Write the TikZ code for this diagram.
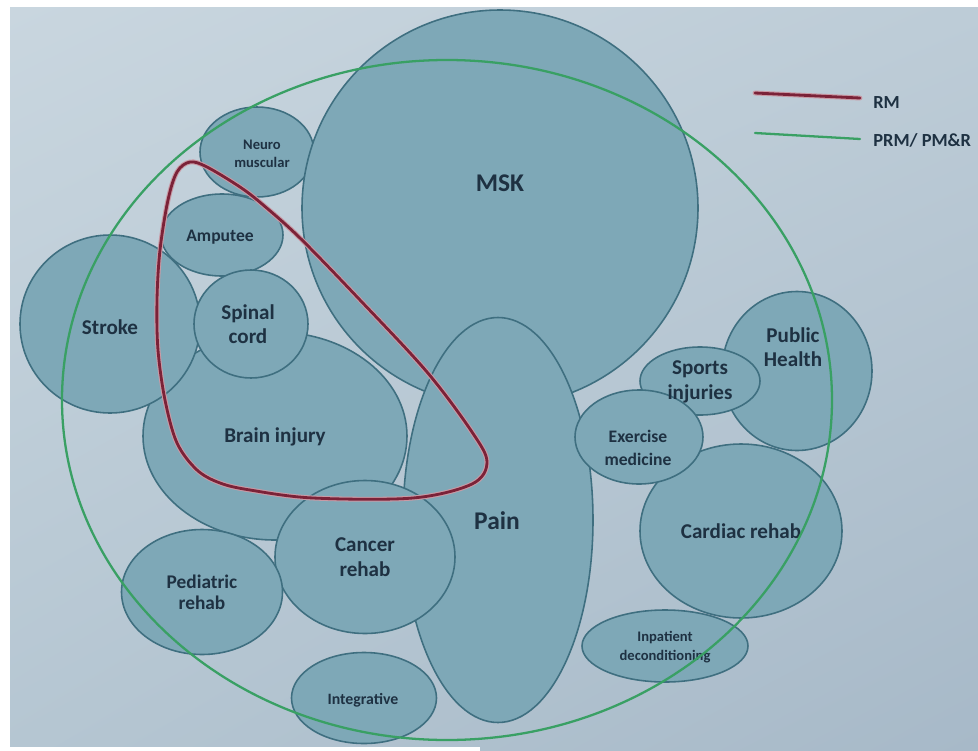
\documentclass[tikz,border=0pt]{standalone}
\usepackage{fontspec}
\setmainfont{Carlito}
\usetikzlibrary{shapes.geometric,shadings}
\definecolor{bgUL}{HTML}{C9D6DF}
\definecolor{bgUR}{HTML}{BDCCD7}
\definecolor{bgLL}{HTML}{B5C6D2}
\definecolor{bgLR}{HTML}{A7B9C8}
\definecolor{fillc}{HTML}{7EA8B7}
\definecolor{edge}{HTML}{3F6F80}
\definecolor{ink}{HTML}{1E3142}
\definecolor{rmred}{HTML}{7B2238}
\definecolor{rmhalo}{HTML}{C99AA5}
\definecolor{prmgreen}{HTML}{39A064}
\begin{document}
\begin{tikzpicture}[x=0.02cm,y=-0.02cm,
  blob/.style n args={2}{ellipse, draw=edge, line width=0.9pt, fill=fillc,
    inner sep=0pt, outer sep=0pt, minimum width={#1*0.02cm}, minimum height={#2*0.02cm}},
  lab/.style={text=ink, align=center, inner sep=0pt},
  fbig/.style={lab, font=\fontsize{14.5}{17}\selectfont\bfseries},
  fmid/.style={lab, font=\fontsize{12}{14}\selectfont\bfseries},
  fped/.style={lab, font=\fontsize{11}{12}\selectfont\bfseries},
  fsm/.style={lab, font=\fontsize{10}{13}\selectfont\bfseries},
  fsmb/.style={lab, font=\fontsize{10}{13}\selectfont\bfseries},
  fxsb/.style={lab, font=\fontsize{8.3}{10.5}\selectfont\bfseries},
  fintb/.style={lab, font=\fontsize{9}{11}\selectfont\bfseries},
  flegend/.style={text=ink, inner sep=0pt, anchor=west, font=\fontsize{10.5}{12}\selectfont\bfseries},
  rmline/.style={draw=rmred, line width=1.6pt, line join=round, line cap=round},
  rmhaloline/.style={draw=rmhalo, line width=2.8pt, line join=round, line cap=round},
  prmline/.style={draw=prmgreen, line width=1.3pt, line cap=round}
]
% canvas
\useasboundingbox (0,0) rectangle (978,751);
\fill[white] (0,0) rectangle (978,751);
\shade[upper left=bgUL, upper right=bgUR, lower left=bgLL, lower right=bgLR]
  (10,7) rectangle (978,751);
\fill[white] (0,747) rectangle (480,751);

% shapes (back to front)
\node[blob={114}{90}]  (neuro)    at (257,152) {};
\node[blob={264}{208}] (brain)    at (275,436) {};
\node[blob={396}{396}] (msk)      at (500,208) {};
\node[blob={190}{405}] (pain)     at (498,520) {};
\node[blob={180}{178}] (stroke)   at (110,324) {};
\node[blob={122}{82}]  (amputee)  at (222,235) {};
\node[blob={114}{108}] (spinal)   at (251,324) {};
\node[blob={180}{153}] (cancer)   at (365,557) {};
\node[blob={161}{125}] (pediatric) at (202,592) {};
\node[blob={145}{91}]  (integr)   at (364,698) {};
\node[blob={150}{159}] (public)   at (797,371) {};
\node[blob={120}{68}]  (sports)   at (700,381) {};
\node[blob={202}{174}] (cardiac)  at (741,531) {};
\node[blob={128}{94}]  (exercise) at (639,437) {};
\node[blob={166}{72}]  (inpatient) at (665,646) {};

% labels
\node[fbig] (msk-t)    at (500,183) {MSK};
\node[fbig] (pain-t)   at (497,521) {Pain};
\node[fxsb] (neuro-t)  at (262,154) {Neuro\\muscular};
\node[fsmb] (amp-t)    at (220,237) {Amputee};
\node[fmid] (stroke-t) at (110,327) {Stroke};
\node[fmid] (spinal-t) at (248,324) {Spinal\\cord};
\node[fmid] (brain-t)  at (275,437) {Brain injury};
\node[fmid] (cancer-t) at (365,557) {Cancer\\rehab};
\node[fped] (ped-t)    at (202,592) {Pediatric\\rehab};
\node[fintb] (int-t)   at (363,700) {Integrative};
\node[fmid] (sports-t) at (700,382) {Sports\\injuries};
\node[fmid] (public-t) at (793,347) {Public\\Health};
\node[fsm]  (ex-t)     at (638,448) {Exercise\\medicine};
\node[fmid] (card-t)   at (741,531) {Cardiac rehab};
\node[fxsb] (inp-t)    at (665,647) {Inpatient\\deconditioning};

% RM outline
\def\rmpath{plot[smooth cycle, tension=0.55] coordinates {
  (190,162) (207,167) (240,187) (262,204) (300,238) (360,300) (427,372)
  (472,432) (487,462) (472,484) (413,498) (313,498) (250,490) (220,483)
  (197,470) (177,443) (165,400) (158,350) (157,300) (160,250) (168,200)
  (177,172)}}
\draw[rmhaloline] \rmpath;
\draw[rmline] \rmpath;

% PRM / PM&R outline
\node[ellipse, draw=prmgreen, line width=1.3pt, inner sep=0pt,
  minimum width={770*0.02cm}, minimum height={680*0.02cm}] (prm) at (447,400) {};

% legend
\coordinate (rmA) at (755,93);
\coordinate (rmB) at (860,98);
\coordinate (prA) at (755,133);
\coordinate (prB) at (860,139);
\draw[rmhaloline] (rmA) -- (rmB);
\draw[rmline] (rmA) -- (rmB);
\draw[prmline] (prA) -- (prB);
\node[flegend] (rm-t)  at (873,103) {RM};
\node[flegend] (prm-t) at (873,140) {PRM/ PM\&R};
\end{tikzpicture}
\end{document}
